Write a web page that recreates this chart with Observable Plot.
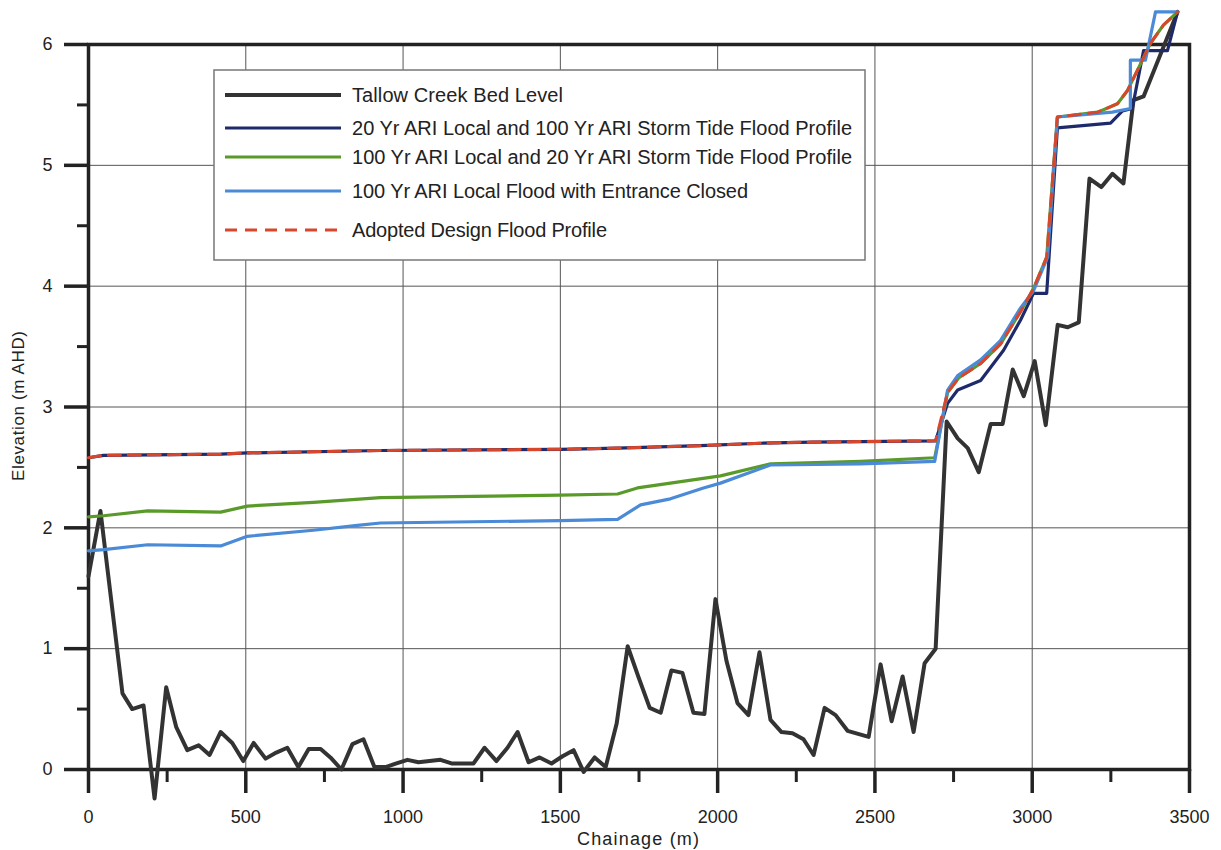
<!DOCTYPE html>
<html><head><meta charset="utf-8">
<script src="https://cdn.jsdelivr.net/npm/d3@7"></script>
<script src="https://cdn.jsdelivr.net/npm/@observablehq/plot@0.6"></script>
<style>body{margin:0;background:#fff} svg{display:block}</style>
</head><body><div id="chart"></div>
<script>
// ---- tick values
const xTicks = [0, 500, 1000, 1500, 2000, 2500, 3000, 3500];
const xMinor = [250, 750, 1250, 1750, 2250, 2750, 3250];
const yTicks = [0, 1, 2, 3, 4, 5, 6];
const yMinor = [0.5, 1.5, 2.5, 3.5, 4.5, 5.5];

// ---- series names
const seriesNames = [
  "Tallow Creek Bed Level",
  "20 Yr ARI Local and 100 Yr ARI Storm Tide Flood Profile",
  "100 Yr ARI Local and 20 Yr ARI Storm Tide Flood Profile",
  "100 Yr ARI Local Flood with Entrance Closed",
  "Adopted Design Flood Profile"
];

// ---- Tallow Creek Bed Level
const bedCh = [0,38,108,139,175,210,247,279,314,350,385,420,457,492,525,563,597,632,667,700,738,769,804,839,874,909,944,979,1014,1049,1084,1119,1154,1189,1224,1259,1297,1332,1364,1399,1434,1472,1507,1542,1574,1609,1644,1679,1714,1749,1784,1819,1853,1888,1923,1958,1993,2028,2063,2098,2133,2168,2203,2238,2273,2305,2340,2375,2413,2480,2518,2553,2588,2623,2658,2693,2728,2763,2795,2830,2868,2906,2938,2973,3008,3043,3081,3113,3148,3182,3220,3255,3290,3322,3354,3462];
const bedEl = [1.60,2.14,0.63,0.50,0.53,-0.24,0.68,0.35,0.16,0.20,0.12,0.31,0.22,0.07,0.22,0.09,0.14,0.18,0.02,0.17,0.17,0.10,0.00,0.21,0.25,0.02,0.02,0.05,0.08,0.06,0.07,0.08,0.05,0.05,0.05,0.18,0.07,0.18,0.31,0.06,0.10,0.05,0.11,0.16,-0.02,0.10,0.02,0.38,1.02,0.76,0.51,0.47,0.82,0.80,0.47,0.46,1.41,0.90,0.55,0.45,0.97,0.41,0.31,0.30,0.25,0.12,0.51,0.45,0.32,0.27,0.87,0.40,0.77,0.31,0.88,1.00,2.88,2.74,2.66,2.46,2.86,2.86,3.31,3.09,3.38,2.85,3.68,3.66,3.70,4.89,4.82,4.93,4.85,5.54,5.57,6.27];

// ---- 20 Yr ARI Local and 100 Yr ARI Storm Tide
const navyCh = [0,48,420,505,928,1500,1682,1946,2136,2300,2693,2731,2763,2836,2909,2963,3004,3046,3080,3249,3287,3318,3354,3430,3462];
const navyEl = [2.58,2.60,2.61,2.62,2.64,2.65,2.66,2.68,2.70,2.71,2.72,3.03,3.14,3.22,3.47,3.72,3.94,3.94,5.31,5.35,5.45,5.47,5.95,5.95,6.27];

// ---- 100 Yr ARI Local and 20 Yr ARI Storm Tide
const greenCh = [0,48,188,420,505,715,928,1500,1682,1745,1850,2009,2168,2454,2690,2731,2766,2836,2899,2963,3004,3046,3080,3208,3271,3303,3335,3376,3417,3462];
const greenEl = [2.09,2.10,2.14,2.13,2.18,2.21,2.25,2.27,2.28,2.33,2.37,2.43,2.53,2.55,2.58,3.12,3.24,3.36,3.52,3.79,3.98,4.24,5.40,5.44,5.51,5.62,5.79,6.01,6.16,6.27];

// ---- 100 Yr ARI Local Flood with Entrance Closed
const blueCh = [0,48,188,420,505,715,855,928,1500,1682,1755,1850,1955,2009,2168,2454,2690,2731,2763,2836,2899,2963,3004,3049,3080,3255,3312,3312,3360,3392,3462];
const blueEl = [1.81,1.82,1.86,1.85,1.93,1.98,2.02,2.04,2.06,2.07,2.19,2.24,2.33,2.37,2.52,2.53,2.55,3.14,3.26,3.39,3.55,3.82,3.96,4.24,5.40,5.44,5.47,5.87,5.87,6.27,6.27];

// ---- Adopted Design Flood Profile
const adoptCh = [0,48,420,505,928,1500,1682,1946,2136,2300,2693,2731,2766,2836,2899,2963,3004,3046,3080,3208,3271,3303,3335,3376,3417,3462];
const adoptEl = [2.58,2.60,2.61,2.62,2.64,2.65,2.66,2.68,2.70,2.71,2.72,3.12,3.24,3.36,3.52,3.79,3.98,4.24,5.40,5.44,5.51,5.62,5.79,6.01,6.16,6.27];

const colors = ["#333333", "#1f2a6b", "#5a9a2a", "#4a8ad6", "#d8472c"];
const toRows = (ch, el) => ch.map((c, i) => ({ch: c, el: el[i]}));
const bed = toRows(bedCh, bedEl);
const navy = toRows(navyCh, navyEl);
const green = toRows(greenCh, greenEl);
const blue = toRows(blueCh, blueEl);
const adopt = toRows(adoptCh, adoptEl);

const plain = d => String(d);

const chart = Plot.plot({
  width: 1221, height: 850,
  marginLeft: 88, marginRight: 32, marginTop: 44, marginBottom: 81,
  x: {domain: [0, 3500]},
  y: {domain: [0, 6]},
  style: {fontFamily: "'Liberation Sans', Arial, sans-serif", fontSize: "18px", color: "#222", background: "#fff"},
  marks: [
    Plot.gridX(xTicks, {stroke: "#555", strokeOpacity: 1, strokeWidth: 1}),
    Plot.gridY(yTicks, {stroke: "#555", strokeOpacity: 1, strokeWidth: 1}),
    Plot.frame({stroke: "#222", strokeWidth: 3.5}),
    Plot.axisX(xTicks, {tickSize: 24, tickPadding: 17, strokeWidth: 3.5, stroke: "#222", tickFormat: plain, label: null}),
    Plot.axisX(xMinor, {tickSize: 13, strokeWidth: 3, stroke: "#222", tickFormat: () => "", label: null}),
    Plot.axisY(yTicks, {tickSize: 24, tickPadding: 12, strokeWidth: 3.5, stroke: "#222", tickFormat: plain, label: null}),
    Plot.axisY(yMinor, {tickSize: 11, strokeWidth: 3, stroke: "#222", tickFormat: () => "", label: null}),
    Plot.line(bed, {x: "ch", y: "el", stroke: colors[0], strokeWidth: 4}),
    Plot.line(navy, {x: "ch", y: "el", stroke: colors[1], strokeWidth: 3.2}),
    Plot.line(green, {x: "ch", y: "el", stroke: colors[2], strokeWidth: 3.2}),
    Plot.line(blue, {x: "ch", y: "el", stroke: colors[3], strokeWidth: 3.2}),
    Plot.line(adopt, {x: "ch", y: "el", stroke: colors[4], strokeWidth: 3, strokeDasharray: "12,8"})
  ]
});
document.getElementById("chart").appendChild(chart);

// ---- axis titles and legend (pixel layout)
const svg = d3.select(chart);
const font = "'Liberation Sans', Arial, sans-serif";
svg.append("text").text("Chainage (m)")
  .attr("x", 638).attr("y", 845).attr("text-anchor", "middle")
  .attr("textLength", 122).attr("lengthAdjust", "spacing")
  .attr("font-family", font).attr("font-size", 18).attr("fill", "#222");
svg.append("text").text("Elevation (m AHD)")
  .attr("transform", "translate(24,406) rotate(-90)").attr("text-anchor", "middle")
  .attr("textLength", 150).attr("lengthAdjust", "spacing")
  .attr("font-family", font).attr("font-size", 17).attr("fill", "#222");

const lg = svg.append("g").attr("text-anchor", "start");
lg.append("rect").attr("x", 214).attr("y", 70).attr("width", 651).attr("height", 190)
  .attr("fill", "#fff").attr("stroke", "#777").attr("stroke-width", 1.5);
const rowY = [95, 128, 157, 191, 230];
const textLen = [211, 500, 500, 396, 255];
seriesNames.forEach((name, i) => {
  lg.append("line").attr("x1", 225).attr("x2", 341).attr("y1", rowY[i]).attr("y2", rowY[i])
    .attr("stroke", colors[i]).attr("stroke-width", i === 0 ? 4 : 3.2)
    .attr("stroke-dasharray", i === 4 ? "12,8" : null);
  lg.append("text").text(name).attr("x", 352).attr("y", rowY[i] + 7)
    .attr("text-anchor", "start")
    .attr("textLength", textLen[i]).attr("lengthAdjust", "spacing")
    .attr("font-family", font).attr("font-size", 20).attr("fill", "#222");
});
</script></body></html>
